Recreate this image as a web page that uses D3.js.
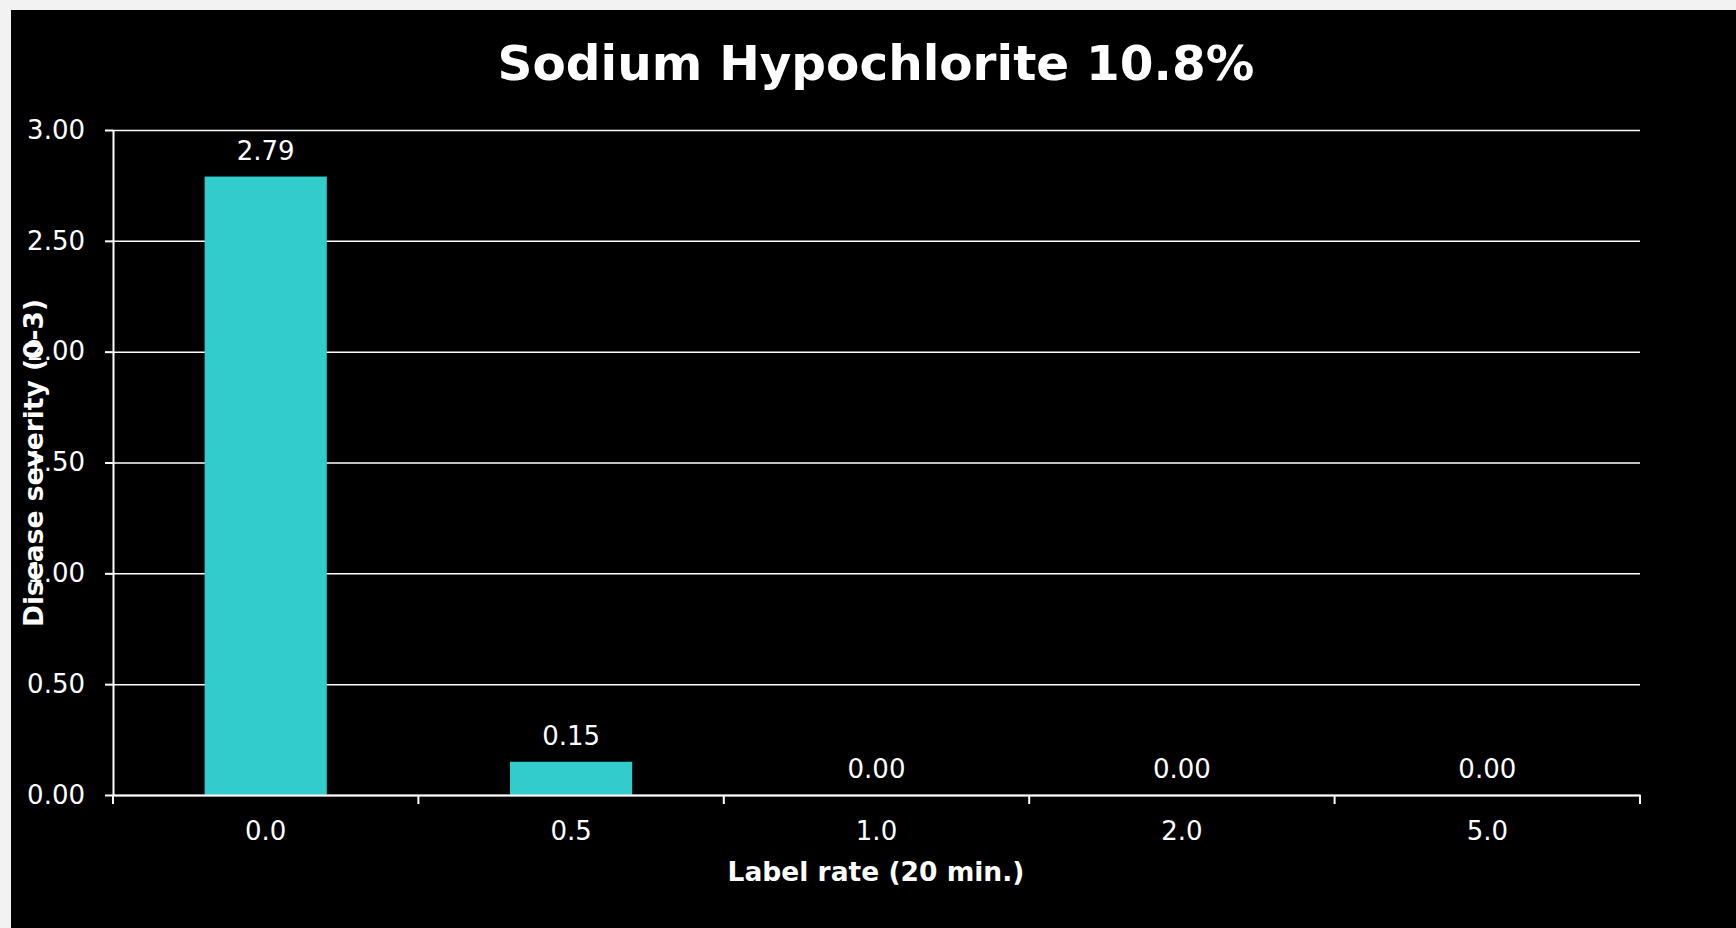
<!DOCTYPE html>
<html>
<head>
    <meta charset="utf-8"/>
    <title>Sodium Hypochlorite 10.8%</title>
    <script src="https://d3js.org/d3.v7.min.js"></script>
    <style>
        body { margin: 0; background-color: #f2f2f2; font-family: "DejaVu Sans", Verdana, sans-serif; }
        svg { display: block; }
        .grid line { stroke: #ffffff; stroke-width: 1.5; }
        .grid path { display: none; }
        .axisY path, .axisY line, .axisX path, .axisX line { stroke: #ffffff; stroke-width: 2; }
        .axisY text, .axisX text { fill: #ffffff; font-size: 26px; font-family: "DejaVu Sans", sans-serif; }
    </style>
</head>
<body>
    <svg id="chart" width="1736" height="928"></svg>

    <script>
    // data
    var categories = ["0.0", "0.5", "1.0", "2.0", "5.0"];
    var severity = [2.79, 0.15, 0.00, 0.00, 0.00];
    var yTicks = [0, 0.5, 1, 1.5, 2, 2.5, 3];

    var svg = d3.select("#chart");

    // black panel, leaving the thin light frame top / left
    svg.append("rect").attr("x", 11).attr("y", 10).attr("width", 1725).attr("height", 918).attr("fill", "#000000");

    var plotL = 113, plotR = 1640, plotT = 130, plotB = 795;

    var x = d3.scaleBand().domain(categories).range([plotL, plotR]).paddingInner(0).paddingOuter(0);
    var y = d3.scaleLinear().domain([0, 3]).range([plotB, plotT]);

    //Gridlines
    svg.append("g").attr("class", "grid")
        .attr("transform", "translate(" + plotL + ",0)")
        .call(d3.axisRight(y).tickValues(yTicks).tickSize(plotR - plotL).tickFormat(""));

    //Bars
    var barW = x.bandwidth() * 0.4;
    svg.selectAll("rect.bar").data(severity).enter()
        .append("rect")
        .attr("class", "bar")
        .attr("x", function (d, i) { return x(categories[i]) + (x.bandwidth() - barW) / 2; })
        .attr("y", function (d) { return y(d); })
        .attr("width", barW)
        .attr("height", function (d) { return plotB - y(d); })
        .attr("fill", "#33cccc");

    //Value labels
    svg.selectAll("text.val").data(severity).enter()
        .append("text")
        .attr("class", "val")
        .attr("x", function (d, i) { return x(categories[i]) + x.bandwidth() / 2; })
        .attr("y", function (d) { return y(d) - 17; })
        .attr("text-anchor", "middle")
        .attr("fill", "#ffffff")
        .attr("font-size", 26)
        .text(function (d) { return d.toFixed(2); });

    //Axes
    svg.append("g").attr("class", "axisY")
        .attr("transform", "translate(" + plotL + ",0)")
        .call(d3.axisLeft(y).tickValues(yTicks).tickSize(8).tickSizeOuter(0).tickPadding(20)
            .tickFormat(function (d) { return d.toFixed(2); }));

    var xAxis = svg.append("g").attr("class", "axisX")
        .attr("transform", "translate(0," + plotB + ")")
        .call(d3.axisBottom(x).tickSize(0).tickSizeOuter(0).tickPadding(27));

    // ticks sit on the category boundaries
    xAxis.selectAll("line.sep").data(d3.range(categories.length + 1)).enter()
        .append("line")
        .attr("class", "sep")
        .attr("x1", function (i) { return plotL + i * x.step(); })
        .attr("x2", function (i) { return plotL + i * x.step(); })
        .attr("y1", 0).attr("y2", 9);

    //Titles
    svg.append("text").attr("x", 876).attr("y", 80).attr("text-anchor", "middle")
        .attr("fill", "#ffffff").attr("font-size", 48.5).attr("font-weight", "bold")
        .text("Sodium Hypochlorite 10.8%");

    svg.append("text").attr("x", 876).attr("y", 881).attr("text-anchor", "middle")
        .attr("fill", "#ffffff").attr("font-size", 26.5).attr("font-weight", "bold")
        .text("Label rate (20 min.)");

    svg.append("text").attr("transform", "translate(43, 463) rotate(-90)").attr("text-anchor", "middle")
        .attr("fill", "#ffffff").attr("font-size", 26.5).attr("font-weight", "bold")
        .text("Disease severity (0-3)");
    </script>
</body>
</html>
